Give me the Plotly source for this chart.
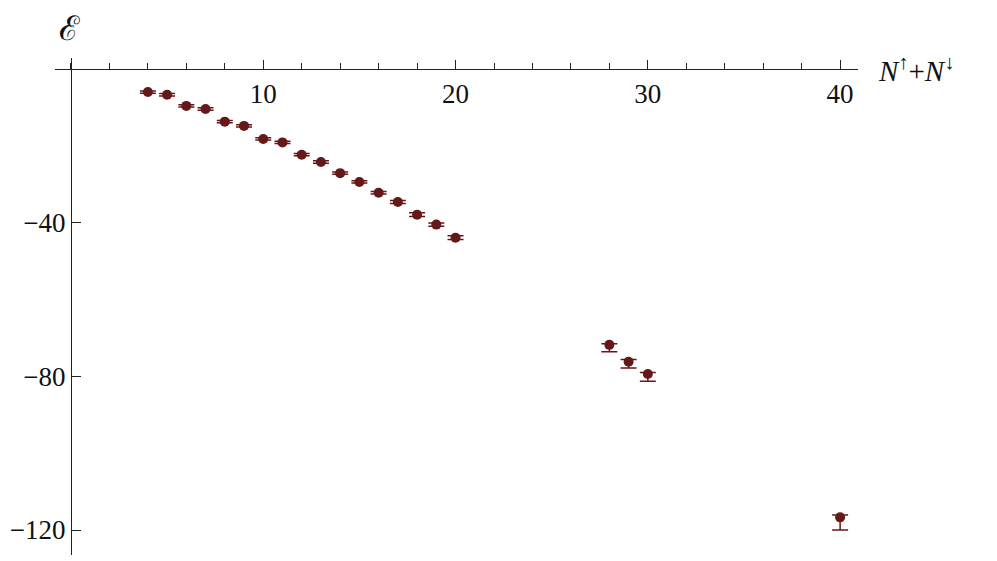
import plotly.graph_objects as go

# Data
n_total = [4, 5, 6, 7, 8, 9, 10, 11, 12, 13, 14, 15, 16, 17, 18, 19, 20, 28, 29, 30, 40]
energy = [-6.0, -6.7, -9.6, -10.4, -13.7, -14.8, -18.2, -19.1, -22.3, -24.2, -27.1, -29.4,
          -32.2, -34.6, -37.9, -40.5, -43.9, -71.8, -76.2, -79.4, -116.7]
err_plus = [0.3, 0.3, 0.3, 0.3, 0.3, 0.3, 0.3, 0.3, 0.3, 0.3, 0.3, 0.3,
            0.3, 0.4, 0.5, 0.4, 0.5, 0.3, 0.6, 0.4, 0.6]
err_minus = [0.3, 0.3, 0.3, 0.3, 0.3, 0.3, 0.3, 0.3, 0.3, 0.3, 0.3, 0.3,
             0.3, 0.4, 0.5, 0.4, 0.5, 1.8, 1.6, 1.9, 3.3]

x_ticks = [10, 20, 30, 40]
y_ticks = [-40, -80, -120]

x_range = [-0.83, 40.93]
y_range = [-126.5, 2.87]

color = "#641818"
axis_color = "#222222"
font_family = "Liberation Serif"

fig = go.Figure()
fig.add_trace(go.Scatter(
    x=n_total, y=energy, mode="markers",
    marker=dict(size=10, color=color),
    error_y=dict(type="data", symmetric=False, array=err_plus, arrayminus=err_minus,
                 color=color, thickness=1.5, width=8),
    showlegend=False,
))

x_pos = (0 - y_range[0]) / (y_range[1] - y_range[0])
y_pos = (0 - x_range[0]) / (x_range[1] - x_range[0])

fig.update_layout(
    width=997, height=561,
    margin=dict(l=47, r=147, t=50, b=14, autoexpand=False),
    paper_bgcolor="white", plot_bgcolor="white",
    font=dict(family=font_family, size=27, color="#111111"),
    xaxis=dict(
        range=x_range, domain=[0, 1], anchor="free", position=x_pos,
        automargin=False,
        showline=True, linecolor=axis_color, linewidth=1.3,
        showgrid=False, zeroline=False,
        tickvals=x_ticks, ticktext=[str(v) for v in x_ticks],
        ticks="inside", ticklen=9, tickwidth=1, tickcolor=axis_color,
        minor=dict(dtick=2, tick0=0, ticks="inside", ticklen=6, tickwidth=1, tickcolor=axis_color, showgrid=False),
        tickfont=dict(family=font_family, size=27, color="#111111"),
    ),
    yaxis=dict(
        range=y_range, domain=[0, 1], anchor="free", position=y_pos,
        automargin=False,
        showline=True, linecolor=axis_color, linewidth=1.3,
        showgrid=False, zeroline=False,
        tickvals=y_ticks, ticktext=["\u2212" + str(-v) for v in y_ticks],
        ticks="inside", ticklen=9, tickwidth=1, tickcolor=axis_color,
        tickfont=dict(family=font_family, size=27, color="#111111"),
    ),
    annotations=[
        dict(text="\u2130", xref="paper", yref="paper", x=0.0, y=1.0,
             xanchor="left", yanchor="middle", xshift=2, yshift=30, showarrow=False,
             font=dict(family="DejaVu Serif", size=34, color="#111111")),
        dict(text="<i>N</i><sup>\u2191</sup>+<i>N</i><sup>\u2193</sup>", xref="paper", yref="y",
             x=1.0, y=0, xanchor="left", yanchor="middle", xshift=18, yshift=0, showarrow=False,
             font=dict(family=font_family, size=29, color="#111111")),
    ],
)

fig.write_html("out.html")
